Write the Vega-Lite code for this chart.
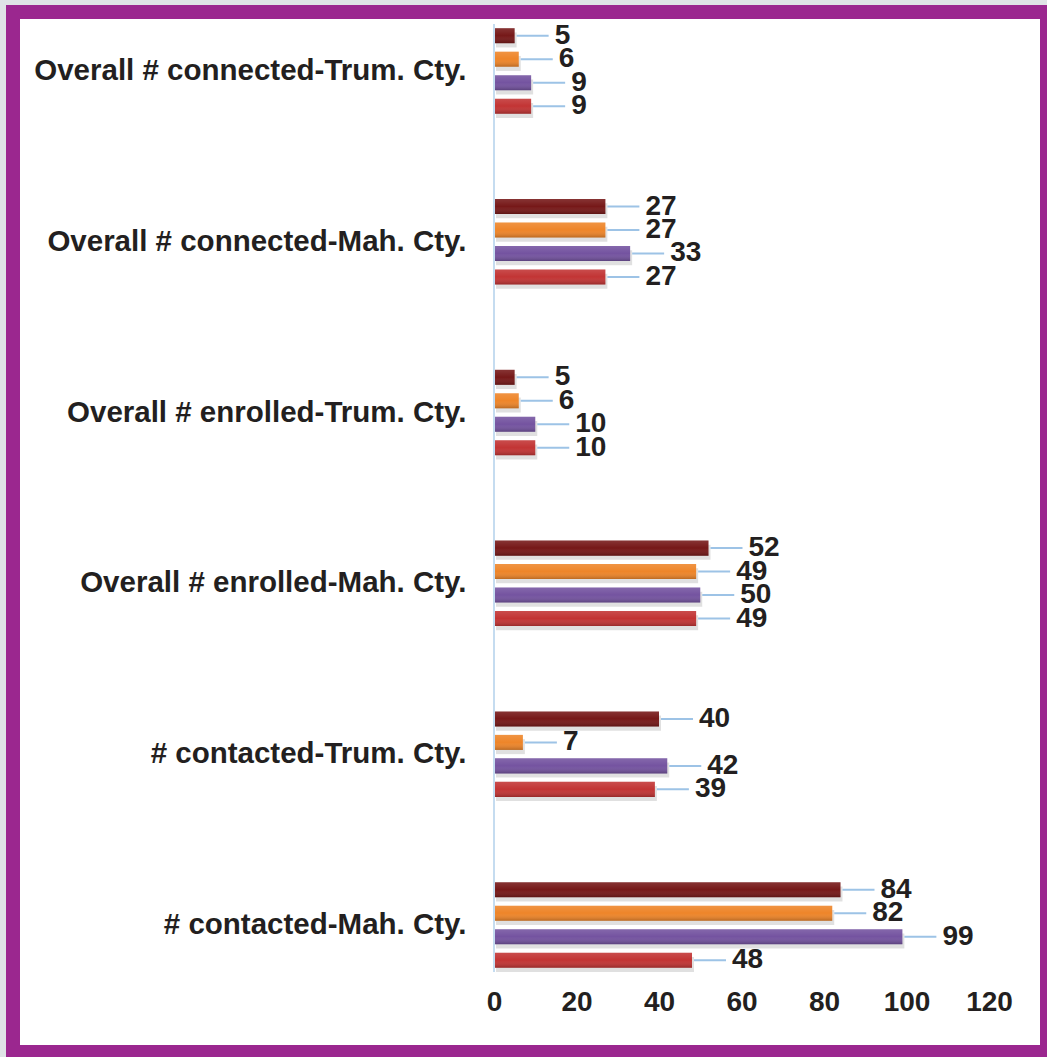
{
  "$schema": "https://vega.github.io/schema/vega-lite/v6.json",
  "width": 1034,
  "height": 1040,
  "autosize": {"type": "none"},
  "padding": {"left": 13, "top": 12, "right": 0, "bottom": 5},
  "background": "#dfe3e6",
  "config": {
    "view": {"fill": "#ffffff", "stroke": "#9b278f", "strokeWidth": 14},
    "font": "Liberation Sans"
  },
  "data": {
    "values": [
      {"measure": "Overall # connected-Trum. Cty.", "series": "Series 1", "value": 5},
      {"measure": "Overall # connected-Trum. Cty.", "series": "Series 2", "value": 6},
      {"measure": "Overall # connected-Trum. Cty.", "series": "Series 3", "value": 9},
      {"measure": "Overall # connected-Trum. Cty.", "series": "Series 4", "value": 9},
      {"measure": "Overall # connected-Mah. Cty.", "series": "Series 1", "value": 27},
      {"measure": "Overall # connected-Mah. Cty.", "series": "Series 2", "value": 27},
      {"measure": "Overall # connected-Mah. Cty.", "series": "Series 3", "value": 33},
      {"measure": "Overall # connected-Mah. Cty.", "series": "Series 4", "value": 27},
      {"measure": "Overall # enrolled-Trum. Cty.", "series": "Series 1", "value": 5},
      {"measure": "Overall # enrolled-Trum. Cty.", "series": "Series 2", "value": 6},
      {"measure": "Overall # enrolled-Trum. Cty.", "series": "Series 3", "value": 10},
      {"measure": "Overall # enrolled-Trum. Cty.", "series": "Series 4", "value": 10},
      {"measure": "Overall # enrolled-Mah. Cty.", "series": "Series 1", "value": 52},
      {"measure": "Overall # enrolled-Mah. Cty.", "series": "Series 2", "value": 49},
      {"measure": "Overall # enrolled-Mah. Cty.", "series": "Series 3", "value": 50},
      {"measure": "Overall # enrolled-Mah. Cty.", "series": "Series 4", "value": 49},
      {"measure": "# contacted-Trum. Cty.", "series": "Series 1", "value": 40},
      {"measure": "# contacted-Trum. Cty.", "series": "Series 2", "value": 7},
      {"measure": "# contacted-Trum. Cty.", "series": "Series 3", "value": 42},
      {"measure": "# contacted-Trum. Cty.", "series": "Series 4", "value": 39},
      {"measure": "# contacted-Mah. Cty.", "series": "Series 1", "value": 84},
      {"measure": "# contacted-Mah. Cty.", "series": "Series 2", "value": 82},
      {"measure": "# contacted-Mah. Cty.", "series": "Series 3", "value": 99},
      {"measure": "# contacted-Mah. Cty.", "series": "Series 4", "value": 48}
    ]
  },
  "resolve": {"scale": {"yOffset": "independent"}},
  "layer": [
    {
      "encoding": {
        "y": {
          "field": "measure",
          "type": "nominal",
          "sort": [
            "Overall # connected-Trum. Cty.",
            "Overall # connected-Mah. Cty.",
            "Overall # enrolled-Trum. Cty.",
            "Overall # enrolled-Mah. Cty.",
            "# contacted-Trum. Cty.",
            "# contacted-Mah. Cty."
          ],
          "scale": {"paddingInner": 0.45, "paddingOuter": 0.2695, "align": 0.13},
          "axis": {
            "orient": "left",
            "offset": -481,
            "title": null,
            "domain": false,
            "ticks": false,
            "grid": false,
            "labelPadding": 28,
            "labelFontSize": 29.5,
            "labelFontWeight": "bold",
            "labelColor": "#231f20",
            "labelLimit": 1000
          }
        },
        "x": {
          "field": "value",
          "type": "quantitative",
          "scale": {"domain": [-116.61, 134.06], "nice": false, "zero": false},
          "axis": {
            "values": [0, 20, 40, 60, 80, 100, 120],
            "offset": -80,
            "title": null,
            "domain": false,
            "ticks": false,
            "grid": false,
            "labelPadding": 16,
            "labelFontSize": 28,
            "labelFontWeight": "bold",
            "labelColor": "#231f20"
          }
        }
      },
      "resolve": {"scale": {"yOffset": "independent"}},
      "layer": [
        {
          "mark": {"type": "bar", "color": "#000000", "opacity": 0.12, "xOffset": 2},
          "encoding": {
            "yOffset": {
              "field": "series",
              "type": "nominal",
              "sort": ["Series 1", "Series 2", "Series 3", "Series 4"],
              "scale": {"paddingInner": 0.36, "paddingOuter": 0.18, "align": 1}
            }
          }
        },
        {
          "mark": {"type": "bar"},
          "encoding": {
            "yOffset": {
              "field": "series",
              "type": "nominal",
              "sort": ["Series 1", "Series 2", "Series 3", "Series 4"],
              "scale": {"paddingInner": 0.36, "paddingOuter": 0.18, "align": 0.5}
            },
            "color": {
              "field": "series",
              "type": "nominal",
              "scale": {
                "domain": ["Series 1", "Series 2", "Series 3", "Series 4"],
                "range": ["#761818", "#ee8529", "#7453a0", "#c23434"]
              },
              "legend": null
            }
          }
        },
        {
          "mark": {
            "type": "bar",
            "fill": {
              "gradient": "linear",
              "x1": 0, "y1": 0, "x2": 0, "y2": 1,
              "stops": [
                {"offset": 0, "color": "rgba(255,255,255,0.12)"},
                {"offset": 0.5, "color": "rgba(255,255,255,0)"},
                {"offset": 1, "color": "rgba(0,0,0,0.22)"}
              ]
            }
          },
          "encoding": {
            "yOffset": {
              "field": "series",
              "type": "nominal",
              "sort": ["Series 1", "Series 2", "Series 3", "Series 4"],
              "scale": {"paddingInner": 0.36, "paddingOuter": 0.18, "align": 0.5}
            }
          }
        },
        {
          "mark": {"type": "rule", "color": "#9dc3e6", "strokeWidth": 2, "xOffset": 2, "x2Offset": 34},
          "encoding": {
            "yOffset": {
              "field": "series",
              "type": "nominal",
              "sort": ["Series 1", "Series 2", "Series 3", "Series 4"],
              "scale": {"type": "point", "padding": 0.5}
            },
            "x2": {"field": "value"}
          }
        },
        {
          "mark": {
            "type": "text",
            "align": "left",
            "baseline": "middle",
            "dx": 40,
            "fontSize": 28,
            "fontWeight": "bold",
            "color": "#231f20"
          },
          "encoding": {
            "yOffset": {
              "field": "series",
              "type": "nominal",
              "sort": ["Series 1", "Series 2", "Series 3", "Series 4"],
              "scale": {"type": "point", "padding": 0.5}
            },
            "text": {"field": "value", "type": "quantitative"}
          }
        }
      ]
    },
    {
      "transform": [{"filter": "datum.measure == '# contacted-Mah. Cty.' && datum.series == 'Series 1'"}],
      "mark": {"type": "rule", "color": "#c5dcf0", "strokeWidth": 2},
      "encoding": {
        "x": {"datum": 0, "type": "quantitative"},
        "y": {"datum": "Overall # connected-Trum. Cty.", "type": "nominal", "bandPosition": 0},
        "y2": {"datum": "# contacted-Mah. Cty.", "bandPosition": 1}
      }
    }
  ]
}
